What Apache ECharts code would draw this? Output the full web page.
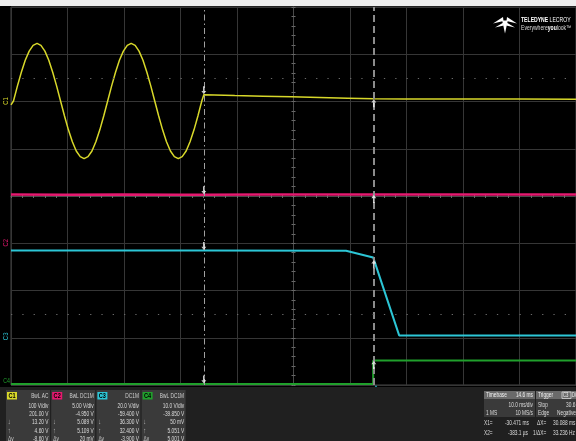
<!DOCTYPE html>
<html><head><meta charset="utf-8">
<script src="https://cdn.jsdelivr.net/npm/echarts@6/dist/echarts.min.js"></script>
<style>html,body{margin:0;padding:0;background:#000;overflow:hidden}#c{width:576px;height:441px}</style>
</head><body><div id="c"></div>
<script>
// time axis (ms relative to trigger)
const T0 = -64.6, T1 = 35.4;
// C1 (yellow, V)
const c1T = [-64.6,-64.16,-63.47,-62.77,-62.08,-61.38,-60.69,-59.99,-59.30,-58.60,-57.91,-57.22,-56.52,-55.83,-55.13,-54.44,-53.74,-53.05,-52.35,-51.66,-50.97,-50.27,-49.58,-48.88,-48.19,-47.49,-46.80,-46.10,-45.41,-44.71,-44.02,-43.33,-42.63,-41.94,-41.24,-40.55,-39.85,-39.16,-38.46,-37.77,-37.08,-36.38,-35.69,-34.99,-34.30,-33.60,-32.91,-32.21,-31.52,-30.83,-30.47,-25,-20,-15,-10,-5,-0.38,5,15,25,35.4];
const c1V = [-8,0,31.6,61,86.3,105.7,117.8,122,117.8,105.7,86.3,61,31.6,0,-31.6,-61,-86.3,-105.7,-117.8,-122,-117.8,-105.7,-86.3,-61,-31.6,0,31.6,61,86.3,105.7,117.8,122,117.8,105.7,86.3,61,31.6,0,-31.6,-61,-86.3,-105.7,-117.8,-122,-117.8,-105.7,-86.3,-61,-31.6,0,13.2,11.6,10.2,8.8,7.4,6.0,4.6,4.4,4.2,4.1,4.0];
// C2 (pink, V)
const c2T = [-64.6,-55,-45,-35,-30.47,-20,-10,-0.38,10,20,35.4];
const c2V = [5.10,5.09,5.11,5.09,5.089,5.10,5.11,5.109,5.10,5.11,5.10];
// C3 (cyan, V)
const c3T = [-64.6,-30.47,-5.3,-0.5,4.1,35.4];
const c3V = [36.3,36.3,36.2,33.4,0.4,0.4];
// C4 (green, V)
const c4T = [-64.6,-0.5,-0.5,35.4];
const c4V = [0.05,0.05,5.05,5.05];
// cursors
const cursorX1 = -30.471, cursorX2 = -0.3831;
const atX1 = [13.2,5.089,36.3,0.05];
const atX2 = [4.6,5.109,32.4,5.051];
// channel setup
const chNames = ['C1','C2','C3','C4'];
const vdiv = [100,5,20,10];
const offs = [201,-4.95,-59.4,-39.85];
const colors = ['#d8d82a','#e5196f','#2cc6d6','#20a02c'];
const chHeader = ['BwL AC','BwL DC1M','DC1M','BwL DC1M'];
const chRows = [
  ['100 V/div','201.00 V','13.20 V','4.60 V','-8.60 V'],
  ['5.00 V/div','-4.950 V','5.089 V','5.109 V','20 mV'],
  ['20.0 V/div','-59.400 V','36.300 V','32.400 V','-3.900 V'],
  ['10.0 V/div','-39.850 V','50 mV','5.051 V','5.001 V']
];
const rowSym = ['','','\u2193','\u2191','\u0394y'];

function toDiv(ch, v){ return (v + offs[ch]) / vdiv[ch]; }

const chart = echarts.init(document.getElementById('c'), null, {renderer:'canvas', width:576, height:441});

const DOWN = 'path://M2,0 L4,0 L4,6 L6,6 L3,10 L0,6 L2,6 Z';
const UP = 'path://M3,0 L6,4 L4,4 L4,10 L2,10 L2,4 L0,4 Z';

function traceSeries(ch, T, V, w, clip){
  return {type:'line', xAxisIndex:1, yAxisIndex:0, silent:true, symbol:'none', showSymbol:false,
    clip: clip, z:4,
    data: T.map((t,i)=>[t, toDiv(ch, V[i])]),
    lineStyle:{color:colors[ch], width:w}};
}

const tickAxisX = (inside)=>({type:'value', min:-5, max:5, interval:1, position:'bottom',
  axisLine:{show:true, onZero:true, onZeroAxisIndex:0, lineStyle:{color:'#4a4a4a'}},
  axisTick:{show:true, inside:inside, length:2, lineStyle:{color:'#6a6a6a'}},
  minorTick:{show:true, splitNumber:5, length:2, lineStyle:{color:'#6a6a6a'}},
  axisLabel:{show:false}, splitLine:{show:false}});
const tickAxisY = (inside)=>({type:'value', min:-4, max:4, interval:1, position:'left',
  axisLine:{show:true, onZero:true, onZeroAxisIndex:2, lineStyle:{color:'#4a4a4a'}},
  axisTick:{show:true, inside:inside, length:2, lineStyle:{color:'#6a6a6a'}},
  minorTick:{show:true, splitNumber:5, length:2, lineStyle:{color:'#6a6a6a'}},
  axisLabel:{show:false}, splitLine:{show:false}});

const option = {
  backgroundColor:'#000',
  animation:false,
  grid:{left:11, top:7, width:566, height:378, show:true, borderColor:'#474747', borderWidth:1, backgroundColor:'#000'},
  xAxis:[
    {type:'value', min:0, max:10, interval:1, axisLine:{show:false}, axisTick:{show:false}, axisLabel:{show:false},
      splitLine:{show:true, lineStyle:{color:'#363636', width:1}}},
    {type:'value', min:T0, max:T1, show:false},
    tickAxisX(false),
    tickAxisX(true)
  ],
  yAxis:[
    {type:'value', min:-4, max:4, interval:1, axisLine:{show:false}, axisTick:{show:false}, axisLabel:{show:false},
      splitLine:{show:true, lineStyle:{color:'#363636', width:1}}},
    tickAxisY(false),
    tickAxisY(true)
  ],
  series:[
    {type:'line', xAxisIndex:1, yAxisIndex:0, data:[[T0,10]], symbol:'none', silent:true, z:3,
      markLine:{symbol:'none', silent:true, label:{show:false}, animation:false,
        data:[
          {xAxis:cursorX1, lineStyle:{color:'#a0a0a0', width:1, type:[6,3,1.5,3]}},
          {xAxis:cursorX2, lineStyle:{color:'#8c8c8c', width:2, type:[7,4]}},
          {yAxis:2.5, lineStyle:{color:'#6a6a6a', width:1, type:[1.3,10]}},
          {yAxis:-2.5, lineStyle:{color:'#6a6a6a', width:1, type:[1.3,10]}}
        ]}},
    traceSeries(0, c1T, c1V, 1.5, true),
    traceSeries(1, c2T, c2V, 2.5, true),
    traceSeries(2, c3T, c3V, 2, true),
    traceSeries(3, c4T, c4V, 2, false),
    {type:'scatter', xAxisIndex:1, yAxisIndex:0, silent:true, clip:false, z:10,
      data: atX1.map((v,i)=>[cursorX1, toDiv(i,v)]), symbol:DOWN, symbolSize:[5,8], symbolOffset:[0,-4.5],
      itemStyle:{color:'#f4f4f4'}},
    {type:'scatter', xAxisIndex:1, yAxisIndex:0, silent:true, clip:false, z:10,
      data: atX2.map((v,i)=>[cursorX2, toDiv(i,v)]), symbol:UP, symbolSize:[5,8], symbolOffset:[0,4.5],
      itemStyle:{color:'#f4f4f4'}},
    {type:'scatter', xAxisIndex:1, yAxisIndex:0, silent:true, clip:false, z:10,
      data:[[0,-4]], symbol:'triangle', symbolSize:[6,5], symbolOffset:[0,2.5], itemStyle:{color:colors[2]}}
  ]
};
chart.setOption(option);

// ---- graphics: panel, logo, channel markers ----
const G = [];
const FONT = '"Liberation Sans", Arial, sans-serif';
function txt(x, y, s, o){
  o = o || {};
  const size = o.size || 7.5;
  G.push({type:'text', x:x, y:y, scaleX:(o.sx!=null?o.sx:0.64), rotation:o.rot||0, z:100, silent:true,
    style:{text:s, fill:o.color||'#dcdcdc', font:(o.bold?'bold ':'')+size+'px '+FONT,
      textAlign:o.align||'left', align:o.align||'left', textVerticalAlign:'middle', verticalAlign:'middle'}});
}
function rect(x,y,w,h,fill,stroke){
  G.push({type:'rect', z:90, silent:true, shape:{x:x,y:y,width:w,height:h},
    style:{fill:fill||'none', stroke:stroke||'none', lineWidth:stroke?0.8:0}});
}
// top strip
rect(0,0,576,6,'#eeeeee');
// bottom panel
rect(0,387,576,54,'#202020');
const rowsY = [405.5,413.8,422.2,430.5,438.8];
for (let i=0;i<4;i++){
  const bx = 6 + i*45.2;
  rect(bx,390,44,51,'#3a3a3a');
  rect(bx+1,392,10,7.5,colors[i]);
  txt(bx+6,395.9,chNames[i],{color:'#000',bold:true,align:'center',sx:0.8,size:7});
  txt(bx+42.5,395.9,chHeader[i],{align:'right',color:'#d0d0d0'});
  for (let r=0;r<5;r++){
    txt(bx+42.5,rowsY[r],chRows[i][r],{align:'right'});
    if (rowSym[r]) txt(bx+2,rowsY[r],rowSym[r],{color:'#c8c8c8'});
  }
}
// timebase / trigger
rect(484,391,51,8,'#6a6a6a'); rect(484,399,51,18,'#3a3a3a');
rect(536,391,45,8,'#6a6a6a'); rect(536,399,45,18,'#3a3a3a');
txt(486,395.2,'Timebase',{color:'#f0f0f0'});
txt(533,395.2,'14.6 ms',{align:'right',color:'#f0f0f0'});
txt(533,404.8,'10.0 ms/div',{align:'right'});
txt(486,413,'1 MS');
txt(533,413,'10 MS/s',{align:'right'});
txt(538,395.2,'Trigger',{color:'#f0f0f0'});
rect(562,392,9,6.5,null,'#d8d8d8');
txt(563,395.2,'C3',{color:'#f0f0f0',sx:0.6,size:7});
txt(572,395.2,'DC',{color:'#f0f0f0',sx:0.6,size:7});
txt(538,404.8,'Stop');
txt(580,404.8,'30.6 V',{align:'right'});
txt(538,413,'Edge');
txt(557,413,'Negative');
txt(484,423.3,'X1=');
txt(529,423.3,'-30.471 ms',{align:'right'});
txt(537,423.3,'\u0394X=');
txt(553,423.3,'30.088 ms');
txt(484,432.7,'X2=');
txt(528,432.7,'-383.1 \u00b5s',{align:'right'});
txt(533,432.7,'1/\u0394X=');
txt(553,432.7,'33.236 Hz');
// logo
const wing = (pts)=>G.push({type:'polygon', z:95, silent:true, shape:{points:pts}, style:{fill:'#ffffff'}});
wing([[493,23.5],[503,17],[503.5,21]]);
wing([[495,27.5],[503.5,22.5],[503.8,25.5]]);
wing([[517,23.5],[507,17],[506.5,21]]);
wing([[515,27.5],[506.5,22.5],[506.2,25.5]]);
wing([[502.2,20.5],[507.8,20.5],[505,33.5]]);
G.push({type:'text', x:521, y:19.5, scaleX:0.68, z:100, silent:true,
  style:{text:'{b|TELEDYNE} {r|LECROY}', fill:'#fff', font:'7.5px '+FONT, verticalAlign:'middle', textVerticalAlign:'middle',
    rich:{b:{fontWeight:'bold', fontSize:7.5, fill:'#fff', fontFamily:FONT}, r:{fontSize:7.5, fill:'#fff', fontFamily:FONT}}}});
G.push({type:'text', x:521, y:28.5, scaleX:0.78, z:100, silent:true,
  style:{text:'{r|Everywhere}{b|you}{r|look\u2122}', fill:'#ddd', font:'6.5px '+FONT, verticalAlign:'middle', textVerticalAlign:'middle',
    rich:{b:{fontWeight:'bold', fontSize:6.5, fill:'#fff', fontFamily:FONT}, r:{fontSize:6.5, fill:'#ddd', fontFamily:FONT}}}});
// channel ground markers on the left
for (let i=0;i<4;i++){
  const p = chart.convertToPixel({xAxisIndex:1, yAxisIndex:0}, [T0, toDiv(i,0)]);
  if (i<3) txt(6.5, p[1], chNames[i], {color:colors[i], align:'center', rot:Math.PI/2, sx:0.85, size:7});
  else txt(6.5, p[1]-3, chNames[i], {color:colors[i], align:'center', sx:0.75, size:7});
}
chart.setOption({graphic:{elements:G}});
</script>
</body></html>
